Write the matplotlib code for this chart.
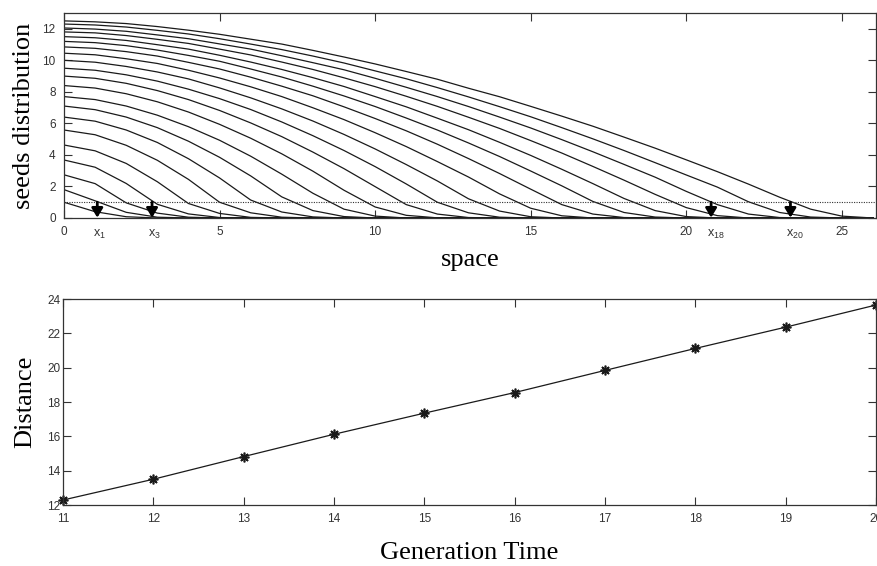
import matplotlib
matplotlib.use("Agg")
import matplotlib.pyplot as plt
from matplotlib.transforms import offset_copy

# ---- data -------------------------------------------------------------
space = list(range(27))          # spatial grid for the seed profiles

# seed distribution after each generation (generation 0 .. 20)
g0 = [1.0, 0.4, 0.08]
g1 = [1.8, 1.09, 0.36, 0.05]
g2 = [2.74, 2.18, 0.96, 0.31, 0.05]
g3 = [3.68, 3.22, 2.19, 0.87, 0.26, 0.03]
g4 = [4.63, 4.26, 3.46, 2.30, 0.92, 0.29, 0.04]
g5 = [5.58, 5.28, 4.61, 3.66, 2.45, 1.0, 0.33, 0.05]
g6 = [6.4, 6.14, 5.58, 4.79, 3.76, 2.54, 1.14, 0.38, 0.07]
g7 = [7.1, 6.87, 6.40, 5.73, 4.87, 3.85, 2.67, 1.34, 0.47, 0.09]
g8 = [7.7, 7.51, 7.10, 6.52, 5.79, 4.93, 3.92, 2.78, 1.57, 0.56, 0.12]
g9 = [8.4, 8.24, 7.88, 7.37, 6.72, 5.94, 5.06, 4.07, 2.97, 1.76, 0.70, 0.17, 0.01]
g10 = [9.0, 8.86, 8.54, 8.08, 7.51, 6.82, 6.03, 5.16, 4.18, 3.13, 1.99, 0.85,
       0.25, 0.03]
g11 = [9.5, 9.37, 9.08, 8.68, 8.17, 7.57, 6.88, 6.09, 5.22, 4.28, 3.26, 2.16,
       1.0, 0.33, 0.05]
g12 = [10.0, 9.88, 9.61, 9.26, 8.82, 8.25, 7.62, 6.92, 6.15, 5.30, 4.38, 3.39,
       2.35, 1.22, 0.44, 0.08]
g13 = [10.45, 10.35, 10.10, 9.80, 9.37, 8.88, 8.32, 7.70, 6.99, 6.24, 5.41,
       4.53, 3.58, 2.60, 1.53, 0.62, 0.14]
g14 = [10.85, 10.76, 10.55, 10.27, 9.87, 9.45, 8.93, 8.36, 7.75, 7.05, 6.31,
       5.53, 4.68, 3.77, 2.82, 1.83, 0.85, 0.25, 0.03]
g15 = [11.2, 11.12, 10.93, 10.65, 10.31, 9.94, 9.45, 8.94, 8.36, 7.74, 7.07,
       6.34, 5.58, 4.76, 3.90, 2.98, 2.04, 1.05, 0.35, 0.06]
g16 = [11.5, 11.43, 11.26, 10.99, 10.71, 10.32, 9.89, 9.42, 8.90, 8.34, 7.70,
       7.05, 6.33, 5.60, 4.80, 3.97, 3.09, 2.18, 1.24, 0.47, 0.09]
g17 = [11.8, 11.74, 11.57, 11.33, 11.07, 10.71, 10.34, 9.89, 9.42, 8.89, 8.33,
       7.72, 7.08, 6.39, 5.68, 4.91, 4.12, 3.27, 2.40, 1.50, 0.66, 0.15]
g18 = [12.05, 11.98, 11.84, 11.61, 11.37, 11.04, 10.71, 10.29, 9.85, 9.40,
       8.86, 8.29, 7.70, 7.07, 6.40, 5.71, 4.97, 4.20, 3.40, 2.59, 1.69, 0.85,
       0.25, 0.03]
g19 = [12.3, 12.24, 12.11, 11.90, 11.67, 11.37, 11.03, 10.68, 10.27, 9.83,
       9.33, 8.83, 8.27, 7.68, 7.06, 6.42, 5.73, 5.02, 4.28, 3.51, 2.73, 1.96,
       1.03, 0.35, 0.06]
g20 = [12.5, 12.44, 12.33, 12.14, 11.91, 11.65, 11.34, 11.03, 10.63, 10.21,
       9.77, 9.29, 8.80, 8.23, 7.69, 7.08, 6.46, 5.82, 5.13, 4.43, 3.69, 2.94,
       2.15, 1.32, 0.56, 0.12]
profiles = [g0, g1, g2, g3, g4, g5, g6, g7, g8, g9, g10,
            g11, g12, g13, g14, g15, g16, g17, g18, g19, g20]

threshold = 1.0
front_pos = [1.07, 2.83, 20.8, 23.35]
front_labels = ["1", "3", "18", "20"]

generation = [11, 12, 13, 14, 15, 16, 17, 18, 19, 20]
distance = [12.29, 13.5, 14.82, 16.12, 17.35, 18.55, 19.84, 21.12, 22.36, 23.65]

# ---- style ------------------------------------------------------------
plt.rcParams["font.family"] = ["Liberation Sans", "DejaVu Sans"]
plt.rcParams["mathtext.fontset"] = "custom"
plt.rcParams["mathtext.rm"] = "Liberation Sans"
label_font = dict(family="Liberation Serif", size=19)
tick_size = 8.5
ink = "#1a1a1a"
frame = "#333333"

fig = plt.figure(figsize=(8.77, 5.66), dpi=100)
W, H = 877, 566
ax1 = fig.add_axes([64 / W, (H - 218) / H, 812 / W, 205 / H])
ax2 = fig.add_axes([63 / W, (H - 505) / H, 813 / W, 206 / H])

for ax in (ax1, ax2):
    ax.tick_params(direction="in", top=True, right=True, length=6, width=0.8,
                   labelsize=tick_size, colors=frame, pad=6)
    for s in ax.spines.values():
        s.set_linewidth(0.9)
        s.set_color(frame)

# ---- top panel: seed profiles ----------------------------------------
for prof in profiles:
    y = prof + [0.0] * (len(space) - len(prof))
    ax1.plot(space, y, color=ink, lw=0.9)

ax1.axhline(threshold, color=frame, lw=0.8, ls=(0, (1, 1.2)))

for xp in front_pos:
    ax1.annotate("", xy=(xp, 0.02), xytext=(xp, threshold),
                 arrowprops=dict(arrowstyle="-|>,head_length=0.55,head_width=0.33",
                                 color="black", lw=2.0, shrinkA=0, shrinkB=0))

ax1.set_xlim(0, 26.1)
ax1.set_ylim(0, 13.0)
ax1.set_xticks([0, 5, 10, 15, 20, 25])
ax1.set_yticks([0, 2, 4, 6, 8, 10, 12])

# front labels under the axis, with the "x" sitting on each arrow
lab_tr = offset_copy(ax1.get_xaxis_transform(), fig=fig, x=-4, y=-10, units="dots")
for xp, s in zip(front_pos, front_labels):
    ax1.text(xp, 0, r"$\mathregular{x_{%s}}$" % s, transform=lab_tr,
             ha="left", va="top", fontsize=tick_size + 0.5, color=frame)

ax1.set_xlabel("space", fontdict=label_font, labelpad=8)
ax1.set_ylabel("seeds distribution", fontdict=label_font, labelpad=5)

# ---- bottom panel: front position over generations --------------------
ax2.plot(generation, distance, color=ink, lw=0.9, marker=(8, 2, 0), ms=7,
         mew=1.2, mfc=ink, mec=ink, clip_on=False)
ax2.set_xlim(11, 20)
ax2.set_ylim(12, 24)
ax2.set_xticks(range(11, 21))
ax2.set_yticks(range(12, 25, 2))
ax2.tick_params(axis="y", pad=2)
ax2.set_xlabel("Generation Time", fontdict=label_font, labelpad=12)
ax2.set_ylabel("Distance", fontdict=label_font, labelpad=8)

fig.savefig("out.png", dpi=100)
